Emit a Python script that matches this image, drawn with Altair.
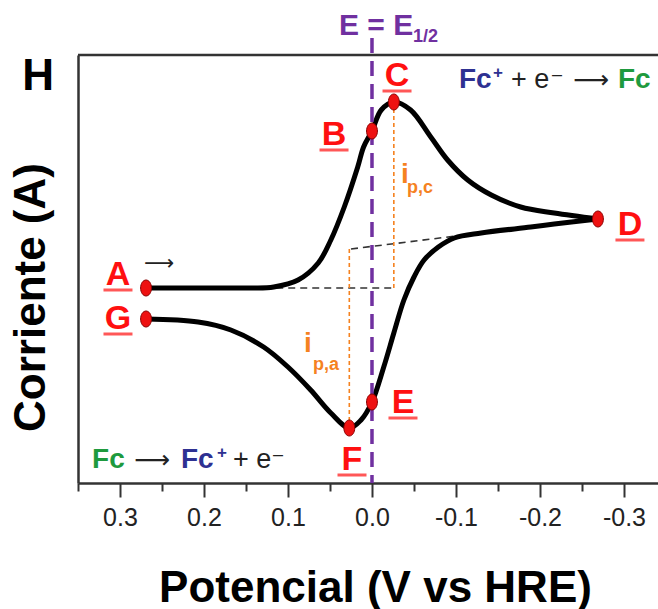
import altair as alt
import pandas as pd

# ---------------- data ----------------
X_DOMAIN = [0.35, -0.3405]
Y_DOMAIN = [-19.5, 23.3]

x_ticks = [0.35, 0.3, 0.25, 0.2, 0.15, 0.1, 0.05, 0.0, -0.05, -0.1, -0.15, -0.2, -0.25, -0.3]

# forward (cathodic) scan A -> D
fwd_x = [0.269, 0.204, 0.144, 0.117, 0.088, 0.064, 0.049, 0.033, 0.017, 0.010, 0.000,
         -0.011, -0.026, -0.046, -0.070, -0.090, -0.114, -0.142, -0.177, -0.217, -0.269]
fwd_i = [0.0, 0.0, 0.0, 0.1, 0.8, 2.5, 4.8, 8.1, 12.1, 14.1, 15.7,
         17.8, 18.6, 17.8, 15.1, 12.8, 10.8, 9.3, 8.1, 7.5, 6.9]
# reverse (anodic) scan D -> G
rev_x = [-0.269, -0.217, -0.189, -0.130, -0.098, -0.079, -0.062, -0.050, -0.038, -0.026,
         -0.014, 0.000, 0.013, 0.027, 0.049, 0.073, 0.100, 0.129, 0.168, 0.207, 0.269]
rev_i = [6.9, 6.4, 6.1, 5.5, 5.0, 4.1, 2.8, 1.1, -1.2, -4.5,
         -7.9, -11.4, -13.2, -14.0, -12.5, -10.2, -7.9, -5.9, -4.2, -3.4, -3.1]

pt_names = ["A", "B", "C", "D", "E", "F", "G"]
pt_x = [0.269, 0.000, -0.026, -0.269, 0.000, 0.027, 0.269]
pt_i = [0.0, 15.7, 18.6, 6.9, -11.4, -14.0, -3.1]

lbl_x = [0.3024, 0.0452, -0.0298, -0.3071, -0.0369, 0.0238, 0.3024]
lbl_i = [0.3, 14.3, 20.2, 5.3, -12.5, -18.2, -4.1]

# baselines (dashed)
base_seg = ["c", "c", "a", "a"]
base_x = [0.114, -0.0286, 0.025, -0.100]
base_i = [0.0, 0.0, 3.9, 5.2]

# peak-current verticals (dotted orange)
ip_x = [-0.026, 0.027]
ip_top = [18.6, 3.9]
ip_bot = [0.0, -14.0]

# E1/2 line
e12_x = [0.0]
e12_top = [25.0]

# annotations: text, x, i, color, size, group
ann = [
    ("H", 0.3976, 19.8, "black", 44, "bold_c"),
    ("E = E", 0.0393, 25.3, "#7030a0", 30, "bold_l"),
    ("1/2", -0.0488, 24.6, "#7030a0", 18, "bold_l"),
    ("i", -0.0345, 10.5, "#f5821f", 28, "bold_l"),
    ("p,c", -0.0417, 9.5, "#f5821f", 18, "bold_l"),
    ("i", 0.081, -6.4, "#f5821f", 28, "bold_l"),
    ("p,a", 0.0702, -8.2, "#f5821f", 18, "bold_l"),
    ("⟶", 0.2714, 1.8, "#222222", 21, "arrow_l"),
    # top right: Fc+ + e- -> Fc
    ("Fc", -0.1036, 20.0, "#2e3192", 28, "bold_l"),
    ("+", -0.1440, 21.0, "#2e3192", 17, "bold_l"),
    ("+ e", -0.1655, 20.0, "#222222", 27, "reg_l"),
    ("–", -0.2143, 20.8, "#222222", 18, "reg_l"),
    ("⟶", -0.2393, 20.0, "#222222", 25, "arrow_l"),
    ("Fc", -0.2929, 20.0, "#1e9a3e", 28, "bold_l"),
    # bottom left: Fc -> Fc+ + e-
    ("Fc", 0.3333, -18.0, "#1e9a3e", 28, "bold_l"),
    ("⟶", 0.2833, -18.0, "#222222", 25, "arrow_l"),
    ("Fc", 0.2274, -18.0, "#2e3192", 28, "bold_l"),
    ("+", 0.1845, -17.0, "#2e3192", 17, "bold_l"),
    ("+ e", 0.1655, -18.0, "#222222", 27, "reg_l"),
    ("–", 0.1179, -17.2, "#222222", 18, "reg_l"),
]

# ---------------- tables ----------------
curve = pd.DataFrame({
    "x": fwd_x + rev_x,
    "i": fwd_i + rev_i,
    "branch": ["fwd"] * len(fwd_x) + ["rev"] * len(rev_x),
    "k": list(range(len(fwd_x))) + list(range(len(rev_x))),
})
pts = pd.DataFrame({"name": pt_names, "x": pt_x, "i": pt_i})
lbls = pd.DataFrame({"name": pt_names, "x": lbl_x, "i": lbl_i})
base = pd.DataFrame({"seg": base_seg, "x": base_x, "i": base_i})
ipl = pd.DataFrame({"x": ip_x, "i": ip_top, "i2": ip_bot})
e12 = pd.DataFrame({"x": e12_x, "i": e12_top, "i2": [Y_DOMAIN[0]]})
frame = pd.DataFrame({"x": [X_DOMAIN[0]], "x2": [X_DOMAIN[1]], "i": [Y_DOMAIN[1]]})
annd = pd.DataFrame(ann, columns=["t", "x", "i", "color", "size", "grp"])

# ---------------- encodings ----------------
FONT = "Liberation Sans"
minor = "abs(round(datum.value*100)) % 10 == 5"
xs = alt.Scale(domain=X_DOMAIN, nice=False, zero=False)
ys = alt.Scale(domain=Y_DOMAIN, nice=False, zero=False)
X = alt.X("x:Q", scale=xs, axis=alt.Axis(
    values=x_ticks,
    labelExpr=minor + " ? '' : (datum.value < -0.001 ? '-' : '') + format(abs(datum.value), '.1f')",
    tickSize={"condition": {"test": minor, "value": 8}, "value": 14},
    tickWidth=2, tickColor="#333333",
    domainColor="#333333", domainWidth=2.5,
    labelFont=FONT, labelFontSize=25, labelColor="#222222", labelPadding=8,
    labelOverlap=False, labelFlush=False, grid=False,
    title="Potencial (V vs HRE)", titleFont=FONT, titleFontSize=44,
    titleFontWeight="bold", titleColor="black",
    titleX=297, titleY=118, titleAlign="center", titleBaseline="alphabetic"))
Y = alt.Y("i:Q", scale=ys, axis=alt.Axis(
    labels=False, ticks=False, grid=False,
    domainColor="#333333", domainWidth=2.5,
    title="Corriente (A)", titleFont=FONT, titleFontSize=44,
    titleFontWeight="bold", titleColor="black", titleAngle=270,
    titleX=-34, titleY=242, titleAlign="center", titleBaseline="alphabetic"))

# ---------------- layers ----------------
top_border = alt.Chart(frame).mark_rule(color="#333333", strokeWidth=2.5, clip=False).encode(
    x=X, x2="x2:Q", y=Y)

baselines = alt.Chart(base).mark_line(color="#333333", strokeWidth=1.6, strokeDash=[7, 5]).encode(
    x=X, y=Y, detail="seg:N")

ip_lines = alt.Chart(ipl).mark_rule(color="#f5821f", strokeWidth=1.6, strokeDash=[4, 3]).encode(
    x=X, y=Y, y2="i2:Q")

cv = alt.Chart(curve).mark_line(color="black", strokeWidth=5, interpolate="catmull-rom",
                                strokeCap="round", strokeJoin="round").encode(
    x=X, y=Y, detail="branch:N", order="k:Q")

e12_line = alt.Chart(e12).mark_rule(color="#7030a0", strokeWidth=3.5, strokeDash=[15, 8],
                                    clip=False).encode(x=X, y=Y, y2="i2:Q")

ELLIPSE = "M0,-1A0.68,1,0,1,1,0,1A0.68,1,0,1,1,0,-1Z"
points = alt.Chart(pts).mark_point(shape=ELLIPSE, size=256, filled=True, fill="#ee1111",
                                   stroke="#8a0000", strokeWidth=1, opacity=1).encode(x=X, y=Y)

letters = alt.Chart(lbls).mark_text(font=FONT, fontSize=34, fontWeight="bold", color="#ff1010",
                                    align="center", baseline="alphabetic").encode(
    x=X, y=Y, text="name:N")
underlines = alt.Chart(lbls).mark_tick(orient="horizontal", size=29, thickness=3,
                                       color="#ff1010", yOffset=5).encode(x=X, y=Y)


def text_layer(grp, font, weight, align):
    d = annd[annd["grp"] == grp]
    return alt.Chart(d).mark_text(font=font, fontWeight=weight, align=align,
                                  baseline="alphabetic").encode(
        x=X, y=Y, text="t:N",
        color=alt.Color("color:N", scale=None),
        size=alt.Size("size:Q", scale=None))


texts = [
    text_layer("bold_c", FONT, "bold", "center"),
    text_layer("bold_l", FONT, "bold", "left"),
    text_layer("reg_l", FONT, "normal", "left"),
    text_layer("arrow_l", "DejaVu Sans", "normal", "left"),
]

chart = alt.layer(top_border, baselines, ip_lines, cv, e12_line, points, underlines, letters,
                  *texts).properties(
    width=580, height=428,
    autosize=alt.AutoSizeParams(type="none"),
    padding={"left": 78, "top": 55, "right": 0, "bottom": 126},
).configure_view(stroke=None).configure(background="white")

chart.save("out.html", embed_options={"renderer": "svg", "actions": False})
